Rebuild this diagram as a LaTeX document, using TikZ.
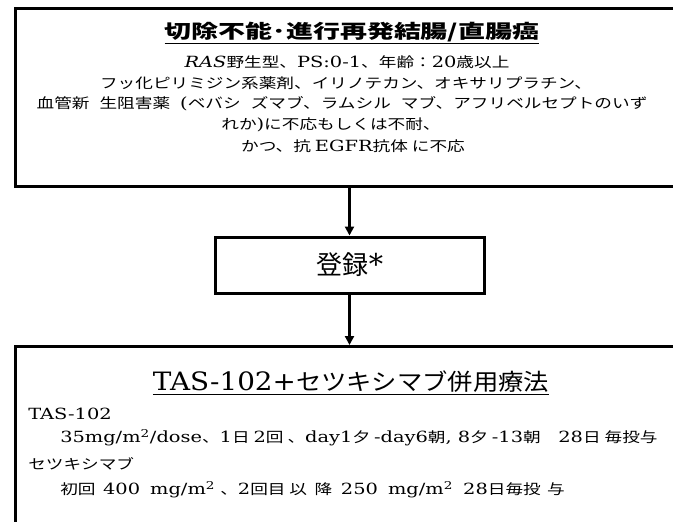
\documentclass[tikz,border=0pt]{standalone}
\usepackage{fontspec}
\setmainfont{Noto Sans CJK JP}
\newfontfamily\lt[Scale=1.1]{DejaVu Serif}
\usetikzlibrary{arrows.meta}
\newcommand{\fs}[1]{\fontsize{#1}{#1}\selectfont}
\newcommand{\gap}{\hspace{8pt}}
\newcommand{\hs}[1]{\hspace{#1pt}}
\begin{document}
\begin{tikzpicture}[x=1pt,y=-1pt,
  box/.style={draw, line width=3pt, inner sep=0pt},
  txt/.style={inner sep=0pt, anchor=center, font=\fs{14}, xscale=1.26},
  arr/.style={line width=2.2pt, -{Triangle[width=9pt,length=9pt]}}]
\useasboundingbox (0,0) rectangle (673,522);
\clip (0,0) rectangle (673,522);
\fill[white] (0,0) rectangle (673,522);
% boxes
\node[box, anchor=north west, minimum width=700pt, minimum height=178pt] (top) at (14,7) {};
\node[box, minimum width=269pt, minimum height=56pt] (reg) at (349.5,265) {};
\node[box, anchor=north west, minimum width=700pt, minimum height=220pt] (bot) at (14,345) {};
% top texts
\node[txt, font=\fs{19}\bfseries, xscale=1.42/1.26] (t0) at (352,33) {\underline{切除不能･進行再発結腸/直腸癌}};
\node[txt] (t1) at (347,62) {{\lt\textit{RAS}}野生型、{\lt PS:0-1}、年齢：{\lt 20}歳以上};
\node[txt] (t2) at (346,83) {フッ化ピリミジン系薬剤、イリノテカン、オキサリプラチン、};
\node[txt] (t3) at (342,104) {血管新\gap 生阻害薬\gap{\lt (}ベバシ\gap ズマブ、ラムシル\gap マブ、アフリベルセプトのいず};
\node[txt] (t4) at (331,125) {れか{\lt )}に不応もしくは不耐、};
\node[txt] (t5) at (353,146) {かつ、抗 {\lt EGFR}抗体 に不応};
% register
\node[txt, font=\fs{26}, xscale=1/1.26] (r) at (350,265) {登録{\lt *}};
% bottom texts
\node[txt, font=\fs{23}, xscale=1.1/1.26] (b0) at (351,383) {\underline{{\lt TAS-102+}セツキシマブ併用療法}};
\node[txt, anchor=west] (b1) at (28,414) {{\lt TAS-102}};
\node[txt, anchor=west] (b2) at (60,438) {{\lt 35mg/m\textsuperscript{2}/dose}、{\lt 1}日 {\lt 2}回 、{\lt day1}夕 {\lt -day6}朝{\lt , 8}夕 {\lt -13}朝\quad{\lt 28}日 毎投与};
\node[txt, anchor=west] (b3) at (28,464) {セツキシマブ};
\node[txt, anchor=west] (b4) at (60,490) {初回\hs{6}{\lt 400\hs{8}mg/m\textsuperscript{2}}\hs{4}、{\lt 2}回目\hs{3}以\hs{6}降\hs{7}{\lt 250\hs{8}mg/m\textsuperscript{2}}\hs{8}{\lt 28}日毎投\hs{5}与};
% connectors
\draw[arr] (reg.north |- top.south) -- (reg.north);
\draw[arr] (reg.south) -- (reg.south |- bot.north);
\end{tikzpicture}
\end{document}
